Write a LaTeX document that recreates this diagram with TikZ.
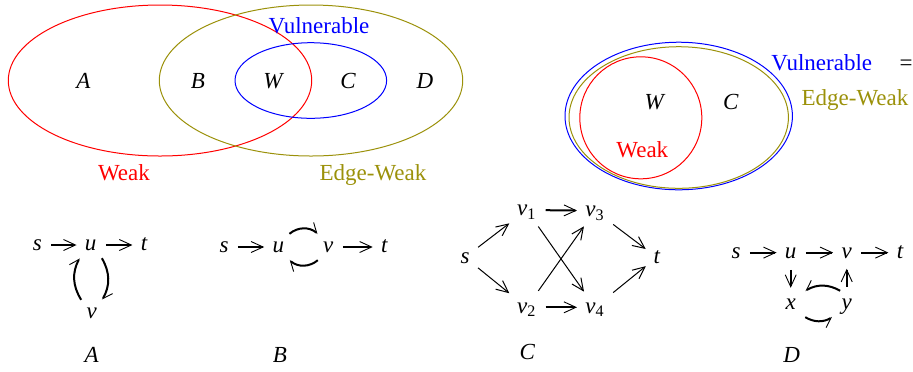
\documentclass[tikz,border=0pt]{standalone}
\usepackage{fontspec}
\setmainfont{Liberation Serif}
\usetikzlibrary{arrows.meta}
\definecolor{edgeweak}{RGB}{155,145,10}

\tikzset{
  lbl/.style={anchor=base, inner sep=0pt, font=\fontsize{11.5}{14}\selectfont},
  vtx/.style={inner sep=2.5pt, text height=1.5ex, text depth=0.2ex, font=\fontsize{11.5}{14}\selectfont\itshape},
  thickarr/.style={line width=1pt, shorten <=2pt, shorten >=1.5pt, -{Straight Barb[line width=0.45pt, length=6pt, width=5.5pt]}},
  thinarr/.style={line width=0.5pt, shorten <=2pt, shorten >=1.5pt, -{Straight Barb[length=6pt, width=5.5pt]}},
  arcl/.style={line width=1pt, -{Straight Barb[left, line width=0.45pt, length=4.5pt, width=6pt]}},
  arcr/.style={line width=1pt, -{Straight Barb[right, line width=0.45pt, length=4.5pt, width=6pt]}}
}

\begin{document}
\begin{tikzpicture}[x=0.5pt,y=0.5pt]
\useasboundingbox (0,0) rectangle (913,-371);

% the three sets
\draw[red, line width=0.5pt] (160,-80.5) ellipse [x radius=151.7, y radius=75.5];
\draw[edgeweak, line width=0.5pt] (311,-80.5) ellipse [x radius=151.7, y radius=75.5];
\draw[blue, line width=0.5pt] (310.8,-80.5) ellipse [x radius=75.8, y radius=37.8];
\foreach \n/\x in {A/83.5, B/198, W/273, C/348, D/425}
  \node[lbl] at (\x,-88.3) {\itshape\n};
\node[lbl, blue] at (319,-33.3) {Vulnerable};
\node[lbl, red] at (124,-180) {Weak};
\node[lbl, edgeweak] at (373,-180) {Edge-Weak};

% the sets when they coincide
\draw[blue, line width=0.5pt] (678.7,-116) ellipse [x radius=113.7, y radius=73.8];
\draw[edgeweak, line width=0.5pt] (678.7,-117.5) ellipse [x radius=109.7, y radius=70.8];
\draw[red, line width=0.5pt] (640.8,-117.8) circle [radius=61];
\node[lbl] at (654.3,-109.3) {\itshape W};
\node[lbl] at (730.7,-109.3) {\itshape C};
\node[lbl, red] at (642.3,-157.3) {Weak};
\node[lbl, blue] at (821.7,-70.7) {Vulnerable};
\node[lbl] at (906,-70.7) {=};
\node[lbl, edgeweak] at (855,-105) {Edge-Weak};

% graph A
\node[vtx] (sA) at (37.3,-245) {s};
\node[vtx] (uA) at (90.7,-245) {u};
\node[vtx] (tA) at (144,-245) {t};
\node[vtx] (vA) at (91.7,-313) {v};
\node[vtx] (labA) at (91.7,-357) {A};
\draw[thickarr] (sA) -- (uA);
\draw[thickarr] (uA) -- (tA);
\draw[arcl] (vA.north west) to[bend left=30] (uA.south west);
\draw[arcl] (uA.south east) to[bend left=30] (vA.north east);

% graph B
\node[vtx] (sB) at (224,-247) {s};
\node[vtx] (uB) at (278.3,-247) {u};
\node[vtx] (vB) at (328.3,-247) {v};
\node[vtx] (tB) at (384.3,-247) {t};
\node[vtx] (labB) at (280,-357) {B};
\draw[thickarr] (sB) -- (uB);
\draw[thickarr] (vB) -- (tB);
\draw[arcl] (uB.north east) to[bend left=40] (vB.north west);
\draw[arcl] (vB.south west) to[bend left=40] (uB.south east);

% graph C
\node[vtx] (sC) at (465,-257.3) {s};
\node[vtx] (v1) at (526.7,-210) {v\textsubscript{\upshape 1}};
\node[vtx] (v3) at (595,-210.7) {v\textsubscript{\upshape 3}};
\node[vtx] (v2) at (526.7,-307.3) {v\textsubscript{\upshape 2}};
\node[vtx] (v4) at (595,-307.3) {v\textsubscript{\upshape 4}};
\node[vtx] (tC) at (656.7,-257.3) {t};
\node[vtx] (labC) at (527.3,-353.3) {C};
\draw[thickarr] (v1) -- (v3);
\draw[thickarr] (v2) -- (v4);
\foreach \a/\b in {sC/v1, sC/v2, v1/v4, v2/v3, v3/tC, v4/tC}
  \draw[thinarr] (\a) -- (\b);

% graph D
\node[vtx] (sD) at (736,-252.6) {s};
\node[vtx] (uD) at (790.7,-252.6) {u};
\node[vtx] (vD) at (846.7,-252.6) {v};
\node[vtx] (tD) at (900,-252.6) {t};
\node[vtx] (xD) at (790.7,-304) {x};
\node[vtx] (yD) at (846.7,-304) {y};
\node[vtx] (labD) at (791.7,-357) {D};
\draw[thickarr] (sD) -- (uD);
\draw[thickarr] (uD) -- (vD);
\draw[thickarr] (vD) -- (tD);
\draw[thickarr] (uD) -- (xD);
\draw[thickarr] (yD) -- (vD);
\draw[arcr] ([xshift=2pt]yD.north west) to[bend right=30] ([xshift=2pt]xD.north east);
\draw[arcr] ([xshift=2pt]xD.south east) to[bend right=30] ([xshift=-2pt]yD.south west);

\end{tikzpicture}
\end{document}
